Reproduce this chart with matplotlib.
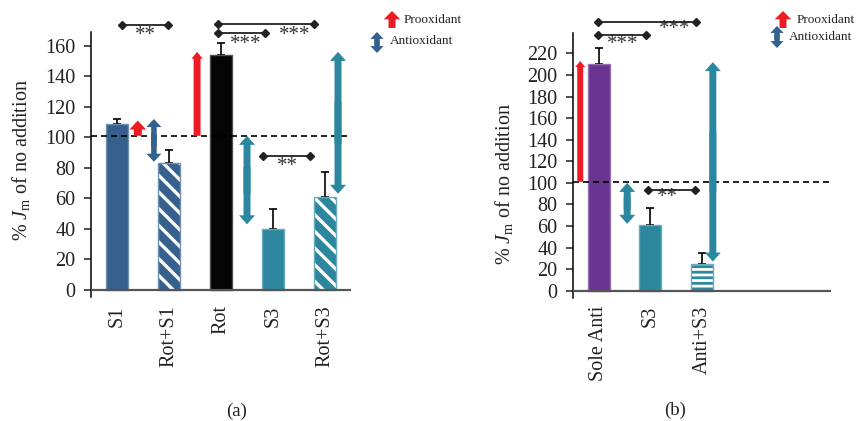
import numpy as np
import matplotlib.pyplot as plt
import matplotlib.colors as mc
from matplotlib.patches import FancyArrowPatch, ArrowStyle

plt.rcParams['font.family'] = ['Liberation Serif', 'DejaVu Serif']
plt.rcParams['mathtext.fontset'] = 'custom'
plt.rcParams['mathtext.rm'] = 'Liberation Serif'
plt.rcParams['mathtext.it'] = 'Liberation Serif:italic'

# panel (a)
cats_a = ['S1', 'Rot+S1', 'Rot', 'S3', 'Rot+S3']
vals_a = [109, 83, 154, 40, 61]
err_a = [3, 9, 8, 13, 16]
colors_a = ['#36618F', '#36618F', '#050505', '#2C879E', '#2C879E']
hatch_a = [None, '\\\\', None, None, '\\\\']

# panel (b)
cats_b = ['Sole Anti', 'S3', 'Anti+S3']
vals_b = [210, 61, 24.5]
err_b = [15, 16, 10]
colors_b = ['#6A3592', '#2C879E', '#2C879E']
hatch_b = [None, None, '---']

# significance brackets: x start, x end, y, label, label x, label y
sig_a = [(0.10, 0.98, 173.5, '**', 0.54, 166.5),
         (1.94, 3.79, 174.5, '***', 3.42, 166.5),
         (1.94, 2.85, 168.2, '***', 2.48, 161),
         (2.81, 3.71, 87.6, '**', 3.27, 81)]
sig_b = [(-0.02, 1.88, 249.5, '***', 1.48, 242),
         (-0.02, 0.91, 237, '***', 0.47, 228),
         (0.95, 1.86, 93, '**', 1.34, 86)]

RED = '#ED1C24'
BLUE = '#33628F'
TEAL = '#2B87A0'

# effect arrows: x, y from, y to, colour, double headed, (head w, head l, tail w) in pt
arr_a = [(0.40, 101, 111, RED, False, (12, 6.5, 5.8)),
         (0.71, 84, 112, BLUE, True, (10.8, 5.8, 4)),
         (1.54, 101, 156, RED, False, (8, 5, 5)),
         (2.50, 43, 101, TEAL, True, (11.5, 6.5, 5)),
         (4.25, 63, 156, TEAL, True, (11.5, 6.5, 5))]
arr_b = [(-0.36, 101, 213, RED, False, (7.2, 4.3, 4.3)),
         (0.55, 62, 100, TEAL, True, (11.5, 6.5, 5)),
         (2.21, 27, 212, TEAL, True, (11.5, 6.5, 5))]


def arrow(host, x, y0, y1, color, both, size, transform=None):
    hw, hl, tw = size
    style = ArrowStyle('Simple', head_length=hl, head_width=hw, tail_width=tw)
    kw = dict(arrowstyle=style, mutation_scale=1, color=color, lw=0,
              shrinkA=0, shrinkB=0, clip_on=False, zorder=4)
    if transform is not None:
        kw['transform'] = transform
    if both:
        ym = (y0 + y1) / 2
        d = 0.15 * (y1 - y0)
        segs = [((x, ym - d), (x, y1)), ((x, ym + d), (x, y0))]
    else:
        segs = [((x, y0), (x, y1))]
    for a, b in segs:
        host.add_artist(FancyArrowPatch(a, b, **kw))


def lighter(c, f=0.3):
    r = np.array(mc.to_rgb(c))
    return tuple(r + (1 - r) * f)


def panel(ax, cats, vals, errs, colors, hatches, sigs, arrows, ymax, ybot, ystep, labely):
    x = np.arange(len(cats))
    for i in range(len(cats)):
        lw = 2.0 if hatches[i] == '---' else 2.4
        with plt.rc_context({'hatch.linewidth': lw}):
            if hatches[i]:
                ax.bar(x[i], vals[i], width=0.43, color=colors[i], hatch=hatches[i],
                       edgecolor='white', linewidth=0, zorder=2)
            else:
                ax.bar(x[i], vals[i], width=0.43, color=colors[i], linewidth=0, zorder=2)
        ax.bar(x[i], vals[i], width=0.43, fill=False, edgecolor=lighter(colors[i]),
               linewidth=1.0, zorder=2)
    ax.errorbar(x, vals, yerr=[np.zeros(len(vals)), errs], fmt='none', ecolor='black',
                elinewidth=1.2, capsize=3, capthick=1.2, zorder=1)
    ax.axhline(101, color='black', lw=1.2, linestyle=(0, (3.6, 2.4)), zorder=3)
    ax.axhline(0, color='#555555', lw=1.6, zorder=3)

    for x0, x1, y, lab, tx, ty in sigs:
        ax.plot([x0, x1], [y, y], color='#222222', lw=1.3, marker='D', markersize=4.5,
                clip_on=False, zorder=5)
        ax.text(tx, ty, lab, ha='center', va='center', fontsize=15, color='#333333')

    for ax_x, y0, y1, c, both, size in arrows:
        arrow(ax, ax_x, y0, y1, c, both, size)

    ax.set_xlim(-0.5, 4.5)
    ax.set_ylim(ybot, ymax)
    ax.set_yticks(np.arange(0, ymax, ystep))
    ax.set_xticks(x)
    ax.set_xticklabels(cats, rotation=90, va='top', ha='center')
    ax.tick_params(axis='x', length=0, pad=6, labelsize=14.5, colors='#222222')
    ax.tick_params(axis='y', direction='out', length=5, width=1.1, pad=6,
                   labelsize=14.5, colors='#222222')
    for s in ['top', 'right', 'bottom']:
        ax.spines[s].set_visible(False)
    ax.spines['left'].set_linewidth(1.1)
    ax.set_ylabel(r'% $J_{\mathrm{m}}$ of no addition', fontsize=14.5, color='#222222')
    ax.yaxis.label.set_verticalalignment('center')
    ax.yaxis.set_label_coords(-0.268, labely)


W, H = 857, 421
fig = plt.figure(figsize=(W / 100, H / 100), dpi=100)
ax1 = fig.add_axes([91 / W, 1 - 297 / H, 260 / W, 265 / H])
ax2 = fig.add_axes([573 / W, 1 - 297.7 / H, 258 / W, 264.7 / H])

panel(ax1, cats_a, vals_a, err_a, colors_a, hatch_a, sig_a, arr_a, 169, -4.6, 20, 0.517)
panel(ax2, cats_b, vals_b, err_b, colors_b, hatch_b, sig_b, arr_b, 239, -6.5, 20, 0.43)

# legends (pixel positions of arrow x, y from, y to and text anchors)
leg = [((392, 28, 11), (377, 53, 32), (404, 20), (390, 41)),
       ((783, 28, 11), (777, 48, 26), (797, 20), (789, 37))]
for red, blue, t1, t2 in leg:
    arrow(fig, red[0] / W, 1 - red[1] / H, 1 - red[2] / H, RED, False, (12, 6, 5),
          transform=fig.transFigure)
    arrow(fig, blue[0] / W, 1 - blue[1] / H, 1 - blue[2] / H, BLUE, True, (9.5, 5, 3.8),
          transform=fig.transFigure)
    fig.text(t1[0] / W, 1 - t1[1] / H, 'Prooxidant', ha='left', va='center',
             fontsize=9.5, color='#222222')
    fig.text(t2[0] / W, 1 - t2[1] / H, 'Antioxidant', ha='left', va='center',
             fontsize=9.5, color='#222222')

fig.text(237 / W, 1 - 411 / H, '(a)', ha='center', va='center', fontsize=13.5, color='#222222')
fig.text(675 / W, 1 - 410 / H, '(b)', ha='center', va='center', fontsize=13.5, color='#222222')

fig.savefig('out.png', dpi=100)
